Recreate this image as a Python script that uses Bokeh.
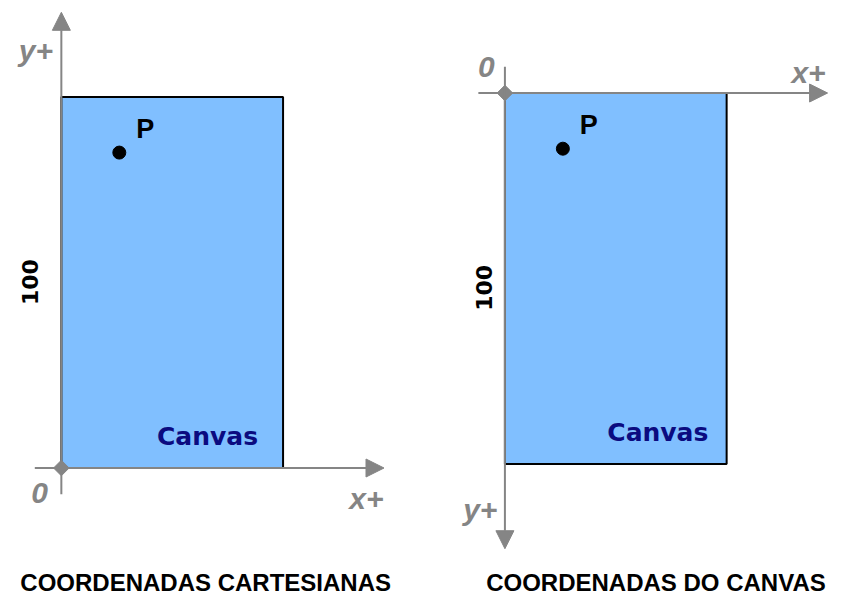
import math
from bokeh.plotting import figure
from bokeh.layouts import row
from bokeh.models import Range1d, Arrow, NormalHead
from bokeh.core.properties import value
from bokeh.embed import file_html
from bokeh.resources import INLINE

# ---- diagram data (units: canvas height = 100) ----
canvas_w = 59.3
canvas_h = 100
axis_min = -7.1
axis_max_x = 86.3
axis_max_y = 122.8
p_x = 15.5
p_y_cart = 85.0          # P in cartesian coordinates (y up)
p_y_canvas = canvas_h - p_y_cart  # P in canvas coordinates (y down)

# label texts
left_title = "COORDENADAS CARTESIANAS"
right_title = "COORDENADAS DO CANVAS"
axis_labels = ["y+", "0", "x+"]
size_label = "100"
canvas_label = "Canvas"
point_label = "P"

# label positions (diagram units) for each panel
left_axis_lx = [-6.8, -5.8, 81.6]
left_axis_ly = [112.6, -6.8, -8.1]
right_axis_lx = [-6.6, -5.0, 81.2]
right_axis_ly = [112.1, -7.1, -5.5]
left_size_pos = (-8.4, 50.1)
right_size_pos = (-5.5, 52.5)
left_canvas_pos = (39.1, 8.4)
right_canvas_pos = (40.9, 91.5)
left_title_pos = (38.6, -30.8)
right_title_pos = (40.4, 131.9)

GRAY = "#858585"
BLUE = "#80BFFF"
NAVY = "#0B0B80"
SCALE = 3.81  # reference px per unit


def base_fig(width, x0, x1, y0, y1):
    f = figure(width=width, height=599, x_range=Range1d(x0, x1), y_range=Range1d(y0, y1),
               output_backend="svg", toolbar_location=None,
               x_axis_location=None, y_axis_location=None, min_border=0)
    f.grid.visible = False
    f.outline_line_color = None
    f.background_fill_color = "white"
    f.border_fill_color = "white"
    return f


def draw_panel(f, axis_lx, axis_ly, size_pos, canvas_pos, title_pos, title, py):
    # canvas rectangle
    f.quad(left=[0], right=[canvas_w], bottom=[0], top=[canvas_h],
           fill_color=BLUE, line_color="black", line_width=2)
    # axes with arrow heads
    f.add_layout(Arrow(end=NormalHead(size=18, fill_color=GRAY, line_color=GRAY),
                       x_start=axis_min, y_start=0, x_end=axis_max_x, y_end=0,
                       line_color=GRAY, line_width=2))
    f.add_layout(Arrow(end=NormalHead(size=18, fill_color=GRAY, line_color=GRAY),
                       x_start=0, y_start=axis_min, x_end=0, y_end=axis_max_y,
                       line_color=GRAY, line_width=2))
    # origin marker
    f.scatter(x=[0], y=[0], marker="square", angle=math.pi / 4, size=11,
              fill_color=GRAY, line_color=GRAY)
    # axis labels
    f.text(x=axis_lx, y=axis_ly, text=axis_labels, text_color=GRAY,
           text_font=value("Liberation Sans"), text_font_style="bold italic",
           text_font_size="30px", text_align="center", text_baseline="middle")
    # size label
    f.text(x=[size_pos[0]], y=[size_pos[1]], text=[size_label], angle=math.pi / 2,
           text_color="black", text_font=value("DejaVu Sans"), text_font_style="bold",
           text_font_size="22px", text_align="center", text_baseline="middle")
    # point P
    f.scatter(x=[p_x], y=[py], size=13, fill_color="black", line_color="black")
    f.text(x=[p_x], y=[py], text=[point_label], x_offset=17, y_offset=-24,
           text_color="black", text_font=value("Liberation Sans"), text_font_style="bold",
           text_font_size="27px", text_align="left", text_baseline="middle")
    # canvas label
    f.text(x=[canvas_pos[0]], y=[canvas_pos[1]], text=[canvas_label],
           text_color=NAVY, text_font=value("DejaVu Sans"), text_font_style="bold",
           text_font_size="25px", text_align="center", text_baseline="middle")
    # title
    f.text(x=[title_pos[0]], y=[title_pos[1]], text=[title],
           text_color="black", text_font=value("Liberation Sans"), text_font_style="bold",
           text_font_size="24px", text_align="center", text_baseline="middle")


# left panel: cartesian (origin at reference px 62,480)
left = base_fig(421, (0 - 62) / SCALE, (429 - 62) / SCALE,
                (480 - 615) / SCALE, (480 - 0) / SCALE)
draw_panel(left, left_axis_lx, left_axis_ly, left_size_pos, left_canvas_pos,
           left_title_pos, left_title, p_y_cart)

# right panel: canvas coordinates (origin at reference px 514,95, y downward)
right = base_fig(421, (429 - 514) / SCALE, (858 - 514) / SCALE,
                 (615 - 95) / SCALE, (0 - 95) / SCALE)
draw_panel(right, right_axis_lx, right_axis_ly, right_size_pos, right_canvas_pos,
           right_title_pos, right_title, p_y_canvas)

layout = row(left, right, spacing=0)
open("out.html", "w").write(file_html(layout, INLINE))
